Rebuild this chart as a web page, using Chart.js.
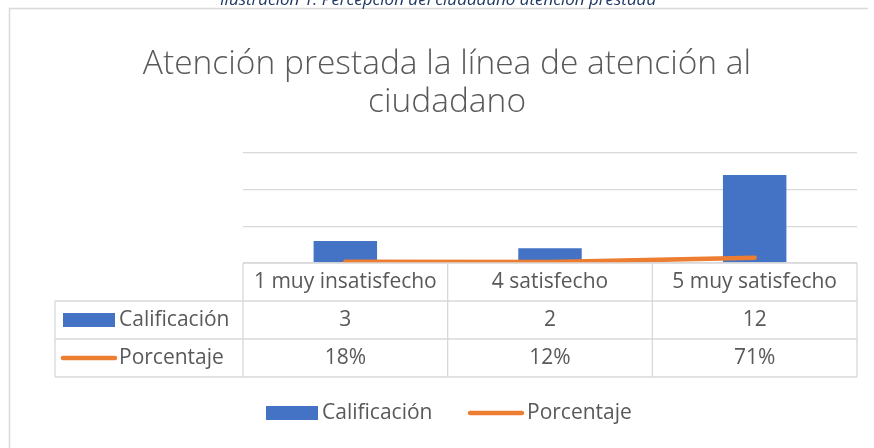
<!DOCTYPE html>
<html>
<head>
<meta charset="utf-8">
<script src="https://cdn.jsdelivr.net/npm/chart.js@4"></script>
<style>
  html, body { margin: 0; padding: 0; background: #fff; }
  #wrap { width: 874px; height: 448px; position: relative; }
</style>
</head>
<body>
<div id="wrap"><canvas id="chart" width="874" height="448"></canvas></div>
<script>
var categories = ['1 muy insatisfecho', '4 satisfecho', '5 muy satisfecho'];
var calificacion = [3, 2, 12];
var porcentaje = [0.18, 0.12, 0.71];
var porcentajeLabels = ['18%', '12%', '71%'];

var textColor = '#595959';
var lineGray = '#d9d9d9';
var fontFamily = "'Open Sans', 'Noto Sans', sans-serif";

// data table, legend, caption and frame drawn around the chart
var tablePlugin = {
  id: 'dataTable',
  beforeDraw: function(chart) {
    var c = chart.ctx;
    c.save();
    c.fillStyle = '#fff';
    c.fillRect(0, 0, chart.width, chart.height);
    // frame
    c.strokeStyle = '#d9d9d9';
    c.lineWidth = 1.5;
    c.beginPath();
    c.moveTo(9.5, 460);
    c.lineTo(9.5, 8.5);
    c.lineTo(868, 8.5);
    c.stroke();
    // caption cut off at top
    c.fillStyle = '#1f3864';
    c.font = "italic 17px " + fontFamily;
    c.textAlign = 'center';
    c.textBaseline = 'alphabetic';
    c.fillText('Ilustración 1. Percepción del ciudadano atención prestada', 438, 5);
    c.restore();
  },
  afterDraw: function(chart) {
    var c = chart.ctx;
    var area = chart.chartArea;
    var colW = (area.right - area.left) / categories.length;
    var rowH = 38;
    var top = area.bottom;
    var keyLeft = 55;
    var bars = chart.data.datasets[0];
    var line = chart.data.datasets[1];

    c.save();
    c.strokeStyle = lineGray;
    c.lineWidth = 1.3;
    c.beginPath();
    c.moveTo(area.left, top); c.lineTo(area.right, top);
    for (var r = 1; r <= 3; r++) {
      c.moveTo(keyLeft, top + r * rowH); c.lineTo(area.right, top + r * rowH);
    }
    for (var k = 0; k <= categories.length; k++) {
      var x = area.left + k * colW;
      c.moveTo(x, top); c.lineTo(x, top + 3 * rowH);
    }
    c.moveTo(keyLeft, top + rowH); c.lineTo(keyLeft, top + 3 * rowH);
    c.stroke();

    c.fillStyle = textColor;
    c.font = "21px " + fontFamily;
    c.textAlign = 'center';
    c.textBaseline = 'middle';
    for (var i = 0; i < categories.length; i++) {
      var cx = area.left + (i + 0.5) * colW;
      c.fillText(categories[i], cx, top + rowH * 0.5);
      c.fillText(String(calificacion[i]), cx, top + rowH * 1.5);
      c.fillText(porcentajeLabels[i], cx, top + rowH * 2.5);
    }

    // keys in table
    var y1 = top + rowH * 1.5, y2 = top + rowH * 2.5;
    c.fillStyle = bars.backgroundColor;
    c.fillRect(63, y1 - 7, 52, 14);
    c.strokeStyle = line.borderColor;
    c.lineWidth = 4.5;
    c.lineCap = 'round';
    c.beginPath(); c.moveTo(63, y2); c.lineTo(115, y2); c.stroke();
    c.fillStyle = textColor;
    c.textAlign = 'left';
    c.fillText(bars.label, 119, y1);
    c.fillText(line.label, 119, y2);

    // legend at bottom
    var ly = 413;
    c.fillStyle = bars.backgroundColor;
    c.fillRect(266, ly - 7, 52, 14);
    c.fillStyle = textColor;
    c.fillText(bars.label, 322, ly);
    c.beginPath(); c.moveTo(470, ly); c.lineTo(522, ly); c.stroke();
    c.fillText(line.label, 527, ly);
    c.restore();
  }
};

new Chart(document.getElementById('chart'), {
  data: {
    labels: categories,
    datasets: [{
      type: 'bar',
      label: 'Calificación',
      data: calificacion,
      backgroundColor: '#4472c4',
      barPercentage: 0.31,
      categoryPercentage: 1,
      order: 1
    }, {
      type: 'line',
      label: 'Porcentaje',
      data: porcentaje,
      borderColor: '#ed7d31',
      backgroundColor: '#ed7d31',
      borderWidth: 4.5,
      borderCapStyle: 'round',
      pointRadius: 0,
      order: 0
    }]
  },
  options: {
    responsive: false,
    animation: false,
    events: [],
    layout: { padding: { left: 20, right: 0, top: 0, bottom: 185 } },
    plugins: {
      legend: { display: false },
      tooltip: { enabled: false },
      title: {
        display: true,
        text: ['Atención prestada la línea de atención al', 'ciudadano'],
        color: textColor,
        font: { family: fontFamily, size: 33.5, weight: 300, lineHeight: 1.134 },
        padding: { top: 45, bottom: 32 }
      }
    },
    scales: {
      x: { display: false, offset: true },
      y: {
        min: 0, max: 15,
        ticks: { display: false, stepSize: 5 },
        grid: { color: lineGray, lineWidth: 1.3, drawTicks: false },
        border: { display: false },
        afterFit: function(scale) { scale.width = 223; }
      },
      y2: {
        position: 'right',
        min: 0, max: 15,
        ticks: { display: false },
        grid: { display: false, drawTicks: false },
        border: { display: false },
        afterFit: function(scale) { scale.width = 17; }
      }
    }
  },
  plugins: [tablePlugin]
});
</script>
</body>
</html>
